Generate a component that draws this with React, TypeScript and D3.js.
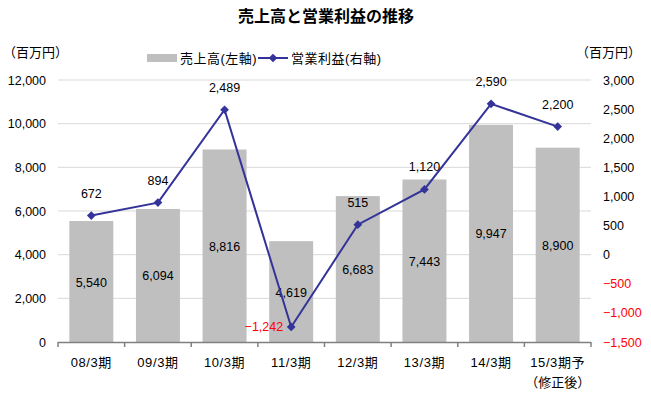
import React, { useEffect, useRef } from 'react';
import * as d3 from 'd3';

const categories = ['08/3期', '09/3期', '10/3期', '11/3期', '12/3期', '13/3期', '14/3期', '15/3期予'];
const subLabels = ['', '', '', '', '', '', '', '（修正後）'];
const sales = [5540, 6094, 8816, 4619, 6683, 7443, 9947, 8900];
const profit = [672, 894, 2489, -1242, 515, 1120, 2590, 2200];
const leftTicks = [0, 2000, 4000, 6000, 8000, 10000, 12000];
const rightTicks = [-1500, -1000, -500, 0, 500, 1000, 1500, 2000, 2500, 3000];

const FONT = '"Liberation Sans", "Noto Sans CJK JP", sans-serif';

export default function App() {
    const ref = useRef<SVGSVGElement>(null);

    useEffect(() => {
        const svg = d3.select(ref.current);
        svg.selectAll('*').remove();

        const left = 58, right = 591, top = 80, bottom = 342;
        const fmt = d3.format(',');

        const x = d3.scaleBand().domain(categories).range([left, right]).paddingInner(0.34).paddingOuter(0.17);
        const yL = d3.scaleLinear().domain([0, 12000]).range([bottom, top]);
        const yR = d3.scaleLinear().domain([-1500, 3000]).range([bottom, top]);

        svg.append('text').attr('x', 326).attr('y', 22).attr('text-anchor', 'middle')
            .attr('font-size', 16).attr('font-weight', 'bold').attr('font-family', FONT).text('売上高と営業利益の推移');

        // grid
        svg.append('g').selectAll('line').data(leftTicks.filter(d => d > 0)).enter().append('line')
            .attr('x1', left).attr('x2', right).attr('y1', d => yL(d)).attr('y2', d => yL(d))
            .attr('stroke', '#d9d9d9').attr('stroke-width', 1);

        // bars
        svg.append('g').selectAll('rect').data(sales).enter().append('rect')
            .attr('x', (d, i) => x(categories[i])!).attr('width', x.bandwidth())
            .attr('y', d => yL(d)).attr('height', d => bottom - yL(d)).attr('fill', '#bfbfbf');

        // x axis
        const xAxis = svg.append('g');
        xAxis.append('line').attr('x1', left).attr('x2', right).attr('y1', bottom + 0.5).attr('y2', bottom + 0.5)
            .attr('stroke', '#808080').attr('stroke-width', 1.5);
        const step = x.step();
        d3.range(categories.length + 1).forEach(i => {
            const tx = left + i * step;
            xAxis.append('line').attr('x1', tx).attr('x2', tx).attr('y1', bottom).attr('y2', bottom + 5)
                .attr('stroke', '#808080').attr('stroke-width', 1.5);
        });
        categories.forEach((c, i) => {
            const cx = x(c)! + x.bandwidth() / 2;
            xAxis.append('text').attr('x', cx).attr('y', 367).attr('text-anchor', 'middle')
                .attr('font-size', 13).attr('letter-spacing', 0.6).attr('font-family', FONT).text(c);
            if (subLabels[i]) {
                xAxis.append('text').attr('x', cx).attr('y', 387).attr('text-anchor', 'middle')
                    .attr('font-size', 13).attr('font-family', FONT).text(subLabels[i]);
            }
        });

        // left axis labels
        svg.append('g').selectAll('text').data(leftTicks).enter().append('text')
            .attr('x', 46).attr('y', d => yL(d) + 4.5).attr('text-anchor', 'end')
            .attr('font-size', 12.5).attr('font-family', FONT).text(d => fmt(d));

        // right axis labels
        svg.append('g').selectAll('text').data(rightTicks).enter().append('text')
            .attr('x', 603).attr('y', d => yR(d) + 4.5).attr('text-anchor', 'start')
            .attr('font-size', 12.5).attr('font-family', FONT)
            .attr('fill', d => d < 0 ? '#ff0000' : '#000').text(d => fmt(d).replace('-', '−'));

        svg.append('text').attr('x', 3).attr('y', 57).attr('font-size', 13).attr('font-family', FONT).text('（百万円）');
        svg.append('text').attr('x', 576).attr('y', 57).attr('font-size', 13).attr('font-family', FONT).text('（百万円）');

        // bar labels
        svg.append('g').selectAll('text').data(sales).enter().append('text')
            .attr('x', (d, i) => x(categories[i])! + x.bandwidth() / 2).attr('y', d => yL(d / 2) + 5)
            .attr('text-anchor', 'middle').attr('font-size', 12.5).attr('font-family', FONT).text(d => fmt(d));

        // profit line
        const px = (i: number) => x(categories[i])! + x.bandwidth() / 2;
        const line = d3.line<number>().x((d, i) => px(i)).y(d => yR(d));
        svg.append('path').datum(profit).attr('d', line).attr('fill', 'none')
            .attr('stroke', '#333399').attr('stroke-width', 2);
        const diamond = d3.symbol().type(d3.symbolSquare).size(38);
        svg.append('g').selectAll('path').data(profit).enter().append('path')
            .attr('d', diamond).attr('transform', (d, i) => `translate(${px(i)},${yR(d)}) rotate(45)`).attr('fill', '#333399');

        svg.append('g').selectAll('text').data(profit).enter().append('text')
            .attr('x', (d, i) => d < 0 ? px(i) - 8 : px(i))
            .attr('y', d => d < 0 ? yR(d) + 4.5 : yR(d) - 18)
            .attr('text-anchor', d => d < 0 ? 'end' : 'middle')
            .attr('font-size', 12.5).attr('font-family', FONT)
            .attr('fill', d => d < 0 ? '#ff0000' : '#000').text(d => fmt(d).replace('-', '−'));

        // legend
        const lg = svg.append('g').attr('font-family', FONT).attr('font-size', 13);
        lg.append('rect').attr('x', 147).attr('y', 54).attr('width', 30).attr('height', 8).attr('fill', '#bfbfbf');
        lg.append('text').attr('x', 180).attr('y', 63).attr('letter-spacing', 0.5).text('売上高(左軸)');
        lg.append('line').attr('x1', 258).attr('x2', 288).attr('y1', 58).attr('y2', 58).attr('stroke', '#333399').attr('stroke-width', 2);
        lg.append('path').attr('d', diamond).attr('transform', 'translate(273,58) rotate(45)').attr('fill', '#333399');
        lg.append('text').attr('x', 291).attr('y', 63).attr('letter-spacing', 0.5).text('営業利益(右軸)');
    }, []);

    return (
        <div>
            <svg ref={ref} width={651} height={394} style={{ position: 'absolute', left: 0, top: 0, background: '#fff' }} />
        </div>
    );
}
